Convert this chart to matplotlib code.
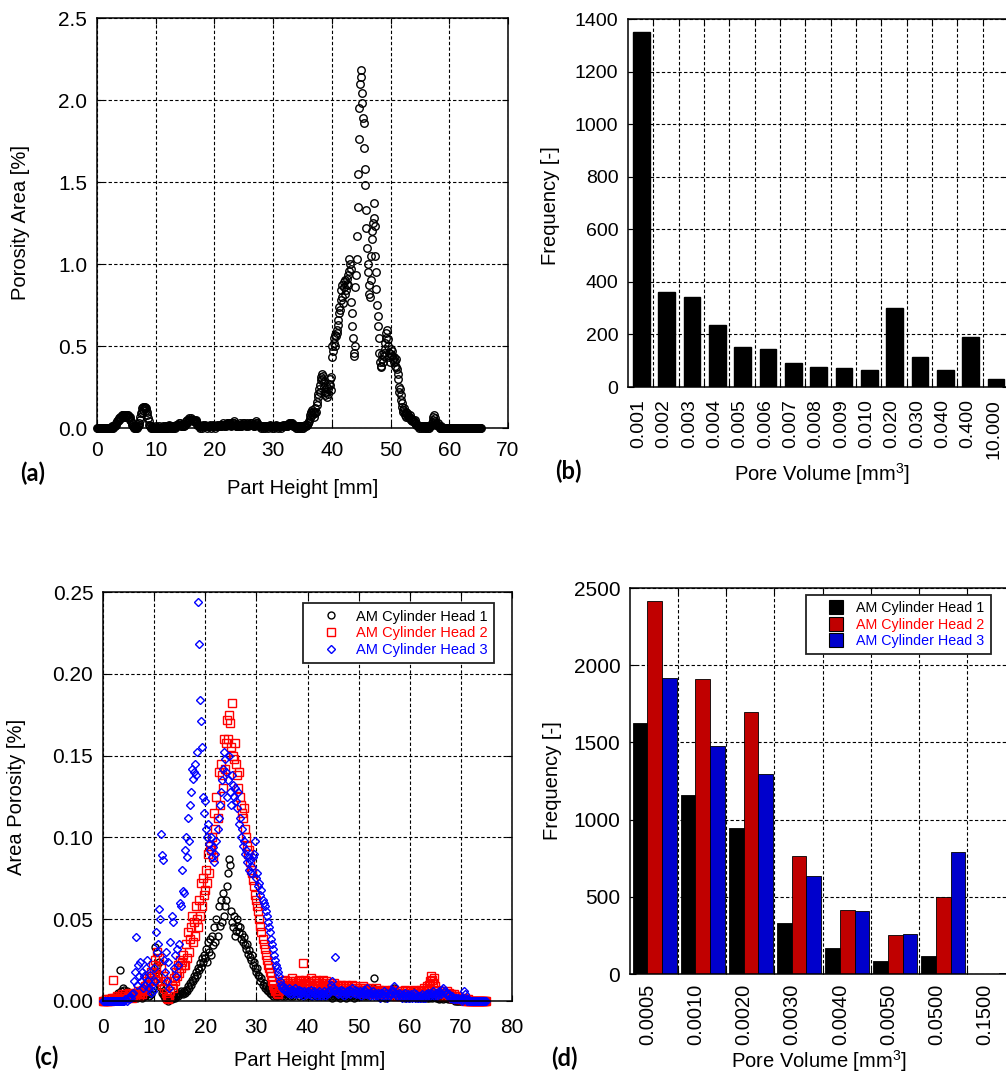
import numpy as np
import matplotlib.pyplot as plt
from matplotlib.lines import Line2D

plt.rcParams['font.family'] = ['Liberation Sans', 'DejaVu Sans']
plt.rcParams['mathtext.fontset'] = 'custom'
plt.rcParams['mathtext.rm'] = 'Liberation Sans'
plt.rcParams['mathtext.it'] = 'Liberation Sans'

# (a) porosity area per CT slice, one row per mm of part height
slice_pitch_a = 0.1
porosity_a = [
    0, 0, 0, 0, 0, 0, 0, 0, 0, 0,
    0, 0, 0, 0, 0, 0, 0, 0, 0, 0,
    0, 0, 0, 0, 0, 0, .01, 0, .01, .01,
    .01, .02, .03, .02, .04, .05, .04, .06, .05, .06,
    .07, .06, .08, .07, .08, .08, .07, .08, .08, .07,
    .08, .08, .07, .08, .07, .06, .07, .05, .04, .03,
    .02, .01, .01, 0, .01, 0, .01, 0, 0, .01,
    .01, .02, .03, .05, .07, .09, .10, .12, .11, .13,
    .13, .12, .13, .11, .12, .10, .08, .06, .04, .02,
    .01, .01, 0, 0, .01, 0, 0, 0, 0, 0,
    0, .01, 0, 0, 0, .01, 0, 0, 0, 0,
    0, 0, .01, 0, 0, 0, .01, 0, 0, .01,
    .01, 0, .01, .02, .01, 0, .01, 0, .01, 0,
    0, .01, 0, .01, .02, .01, .02, .01, .02, .03,
    .02, .03, .02, .01, .02, .01, .01, .02, .01, .02,
    .02, .03, .04, .03, .05, .04, .05, .06, .05, .05,
    .06, .05, .05, .04, .05, .04, .05, .04, .05, .04,
    .03, .02, .02, .01, .01, 0, .01, .01, 0, .01,
    .01, .02, .01, .01, .02, .01, .01, 0, .01, .01,
    .01, .01, .02, .01, .01, 0, .01, .01, .02, .01,
    .01, 0, .01, .01, .01, .02, .01, .01, .02, .01,
    .01, .02, .01, .02, .03, .02, .02, .01, .02, .01,
    .02, .03, .02, .03, .03, .02, .03, .02, .01, .02,
    .02, .03, .03, .04, .03, .02, .02, .01, .01, .01,
    .02, .01, .02, .03, .02, .01, .01, .02, .02, .03,
    .02, .03, .02, .02, .01, .02, .03, .02, .01, .02,
    .02, .03, .03, .02, .03, .02, .02, .01, .01, .02,
    .03, .04, .03, .03, .02, .02, .01, .01, .01, 0,
    .01, .01, 0, .01, .01, .01, 0, .01, .01, .01,
    .01, 0, .01, .01, .02, .01, .01, .01, 0, .01,
    .01, .01, 0, .01, .01, .02, .01, .01, 0, .01,
    .01, .01, .01, 0, .01, .01, .01, .02, .01, .01,
    .01, .02, .01, .01, .01, .02, .02, .03, .02, .03,
    .03, .02, .03, .02, .01, .01, .02, .01, .01, 0,
    .01, 0, .01, .01, 0, .01, 0, .01, .01, 0,
    .01, 0, .01, .01, .01, .02, .01, .02, .02, .03,
    .03, .04, .06, .08, .09, .10, .08, .11, .10, .09,
    .07, .09, .12, .10, .14, .16, .19, .21, .24, .22,
    .26, .29, .31, .33, .30, .32, .28, .25, .22, .20,
    .22, .25, .19, .21, .24, .27, .30, .26, .23, .31,
    .43, .50, .47, .52, .55, .50, .57, .56, .60, .58,
    .63, .66, .70, .74, .72, .78, .84, .80, .87, .76,
    .86, .89, .82, .90, .84, .88, .91, .87, .93, .96,
    1.03, 1.00, .97, .77, .70, .62, .55, .46, .44, .50,
    .86, .93, 1.03, 1.17, 1.35, 1.55, 1.76, 1.95, 2.10, 2.18,
    2.14, 2.04, 1.98, 1.89, 1.86, 1.71, 1.58, 1.48, 1.33, 1.22,
    1.10, 1.00, .95, .87, .82, .80, .90, 1.05, 1.15, 1.20,
    1.25, 1.28, 1.37, 1.23, 1.05, .95, .85, .75, .68, .62,
    .55, .46, .40, .37, .38, .42, .45, .40, .46, .44,
    .48, .52, .55, .58, .60, .54, .50, .46, .43, .40,
    .45, .48, .44, .47, .42, .40, .43, .38, .41, .37,
    .42, .36, .33, .30, .25, .22, .24, .20, .17, .15,
    .13, .11, .10, .12, .09, .08, .10, .07, .09, .07,
    .08, .07, .06, .08, .05, .06, .04, .05, .04, .05,
    .04, .03, .05, .03, .02, .02, .01, .01, .01, 0,
    .01, .01, 0, .01, .01, 0, .01, .01, 0, .01,
    0, .01, .01, 0, .01, .01, 0, .01, .01, .02,
    .02, .03, .05, .07, .08, .06, .04, .03, .02, .02,
    .03, .02, .01, .01, 0, 0, .01, 0, 0, 0,
    0, 0, 0, 0, 0, 0, 0, 0, 0, 0,
    0, 0, 0, 0, 0, 0, 0, 0, 0, 0,
    0, 0, 0, 0, 0, 0, 0, 0, 0, 0,
    0, 0, 0, 0, 0, 0, 0, 0, 0, 0,
    0, 0, 0, 0, 0, 0, 0, 0, 0, 0,
    0, 0, 0, 0, 0, 0, 0, 0, 0, 0,
    0, 0, 0, 0, 0,
]

# (b) pore volume histogram
pore_bins_b = ['0.001', '0.002', '0.003', '0.004', '0.005', '0.006', '0.007',
               '0.008', '0.009', '0.010', '0.020', '0.030', '0.040', '0.400',
               '10.000']
counts_b = [1352, 360, 341, 236, 151, 143, 93, 77, 74, 66, 302, 113, 63, 189, 32]

# (c) area porosity of the three cylinder heads, one row per 2 mm
slice_pitch_c = 0.2
head1_c = [
    0, 0, 0, 0, 0, 0, 0, 0, 0, 0,
    0, 0, .001, .002, .003, .005, .004, .019, .006, .004,
    .008, .007, .005, .006, .004, .003, .004, .002, .003, .002,
    .002, .003, .004, .002, .003, .005, .003, .004, .002, .003,
    .004, .003, .005, .004, .006, .003, .005, .004, .006, .008,
    .012, .033, .018, .022, .015, .024, .010, .008, .005, .004,
    .003, .002, .001, .001, 0, .001, .002, .001, .002, .003,
    .002, .003, .004, .003, .005, .004, .006, .005, .004, .006,
    .005, .007, .006, .009, .008, .011, .010, .013, .012, .015,
    .014, .018, .016, .020, .019, .023, .021, .026, .024, .028,
    .026, .032, .024, .036, .030, .038, .028, .040, .034, .045,
    .036, .050, .040, .058, .046, .062, .048, .066, .052, .058,
    .062, .070, .078, .087, .083, .055, .048, .045, .052, .040,
    .043, .050, .046, .042, .045, .038, .041, .036, .039, .034,
    .032, .035, .029, .031, .027, .025, .028, .022, .024, .020,
    .018, .020, .016, .015, .012, .014, .010, .011, .008, .009,
    .007, .006, .008, .005, .004, .006, .003, .005, .004, .003,
    .004, .003, .005, .004, .006, .003, .004, .005, .003, .004,
    .005, .004, .006, .003, .005, .004, .003, .005, .004, .006,
    .004, .005, .003, .006, .004, .005, .007, .004, .005, .003,
    .004, .006, .005, .003, .004, .005, .006, .004, .003, .005,
    .004, .003, .005, .006, .004, .005, .003, .004, .006, .005,
    .003, .004, .005, .003, .002, .004, .003, .005, .004, .003,
    .004, .003, .002, .004, .003, .005, .004, .003, .002, .004,
    .003, .005, .004, .003, .004, .002, .003, .005, .004, .003,
    .004, .003, .005, .004, .006, .003, .004, .005, .003, .004,
    .005, .004, .006, .005, .008, .014, .006, .004, .005, .003,
    .004, .003, .005, .004, .003, .004, .002, .003, .004, .003,
    .004, .005, .003, .006, .004, .008, .005, .004, .003, .004,
    .003, .004, .005, .003, .004, .002, .003, .004, .003, .002,
    .003, .004, .006, .005, .004, .003, .004, .002, .003, .004,
    .003, .002, .004, .003, .002, .003, .004, .002, .003, .002,
    .003, .004, .002, .003, .004, .003, .002, .003, .002, .001,
    .002, .003, .002, .001, .002, .003, .002, .001, .002, .001,
    .001, .002, .001, .001, 0, .001, 0, 0, .001, 0,
    0, 0, 0, 0, 0, 0, 0, 0, 0, 0,
    0, 0, 0, 0, 0, 0, 0, 0, 0, 0,
    0, 0, 0, 0, 0, 0,
]
head2_c = [
    0, 0, 0, .001, 0, 0, .001, 0, .001, .002,
    .013, .002, .001, .002, .003, .002, .001, .003, .002, .004,
    .002, .003, .004, .002, .003, .005, .003, .004, .002, .003,
    .004, .003, .005, .004, .006, .003, .005, .006, .004, .007,
    .006, .009, .007, .012, .010, .015, .012, .018, .014, .022,
    .018, .025, .020, .030, .016, .026, .012, .020, .010, .015,
    .008, .012, .005, .002, .001, .003, .006, .010, .008, .014,
    .012, .018, .015, .022, .017, .025, .020, .024, .028, .022,
    .022, .035, .026, .042, .030, .038, .045, .052, .036, .048,
    .040, .058, .050, .045, .062, .052, .072, .058, .075, .065,
    .068, .080, .072, .090, .078, .095, .092, .100, .088, .115,
    .105, .125, .112, .140, .120, .145, .138, .130, .160, .142,
    .158, .172, .160, .175, .170, .155, .182, .150, .148, .158,
    .145, .138, .130, .140, .125, .120, .115, .112, .118, .105,
    .100, .095, .090, .092, .085, .080, .078, .074, .070, .065,
    .062, .058, .055, .050, .046, .042, .038, .035, .032, .028,
    .025, .022, .020, .018, .015, .012, .010, .008, .006, .007,
    .005, .004, .006, .008, .010, .012, .009, .011, .013, .010,
    .008, .011, .009, .012, .010, .014, .011, .009, .012, .010,
    .008, .011, .013, .010, .012, .009, .023, .011, .013, .010,
    .012, .009, .011, .014, .010, .008, .012, .010, .013, .011,
    .009, .012, .010, .008, .011, .013, .010, .009, .012, .010,
    .008, .011, .009, .007, .010, .008, .011, .009, .007, .010,
    .008, .006, .009, .010, .007, .009, .006, .008, .010, .007,
    .009, .007, .006, .008, .010, .007, .009, .006, .008, .007,
    .006, .008, .005, .007, .009, .006, .008, .005, .007, .006,
    .008, .005, .007, .006, .004, .007, .005, .008, .006, .005,
    .007, .005, .006, .004, .006, .005, .007, .004, .006, .005,
    .004, .006, .005, .007, .004, .006, .005, .003, .006, .004,
    .005, .003, .006, .004, .005, .007, .004, .006, .003, .005,
    .004, .006, .003, .005, .007, .004, .006, .005, .003, .006,
    .005, .007, .004, .006, .008, .005, .007, .009, .006, .010,
    .012, .015, .013, .011, .014, .009, .007, .006, .005, .004,
    .005, .003, .006, .004, .005, .003, .006, .004, .005, .003,
    .004, .003, .002, .004, .003, .002, .003, .001, .002, .001,
    .002, .001, .002, .001, 0, .001, 0, .001, 0, 0,
    0, 0, 0, 0, 0, 0, 0, 0, 0, 0,
    0, 0, 0, 0, 0, 0,
]
head3_c = [
    0, 0, 0, 0, 0, 0, 0, 0, 0, 0,
    0, 0, 0, 0, 0, 0, 0, 0, 0, 0,
    0, 0, .001, 0, .002, .001, .003, .002, .004, .005,
    .012, .018, .039, .010, .022, .015, .024, .012, .018, .008,
    .015, .010, .020, .025, .012, .008, .016, .005, .010, .006,
    .020, .012, .042, .030, .035, .056, .050, .102, .089, .086,
    .025, .018, .030, .012, .024, .008, .036, .052, .048, .020,
    .028, .015, .032, .022, .035, .060, .058, .080, .067, .066,
    .092, .100, .088, .112, .098, .120, .128, .142, .136, .140,
    .145, .138, .152, .244, .218, .184, .171, .155, .125, .115,
    .122, .105, .100, .108, .096, .092, .100, .088, .094, .085,
    .090, .098, .105, .112, .120, .128, .135, .142, .152, .148,
    .140, .125, .135, .150, .128, .120, .138, .132, .125, .130,
    .122, .118, .128, .108, .112, .100, .105, .095, .098, .090,
    .092, .085, .088, .080, .086, .078, .082, .088, .090, .098,
    .075, .078, .070, .072, .065, .068, .062, .060, .058, .055,
    .052, .048, .045, .042, .038, .035, .032, .028, .025, .022,
    .020, .018, .015, .012, .010, .008, .009, .007, .008, .006,
    .007, .005, .008, .006, .004, .007, .005, .006, .008, .004,
    .006, .005, .007, .004, .006, .005, .003, .006, .005, .004,
    .006, .004, .005, .007, .003, .005, .006, .004, .005, .003,
    .005, .006, .004, .003, .005, .004, .006, .003, .005, .004,
    .006, .005, .007, .010, .012, .008, .006, .027, .007, .005,
    .004, .006, .005, .007, .004, .006, .003, .005, .004, .006,
    .005, .007, .004, .006, .008, .005, .007, .004, .006, .005,
    .004, .006, .003, .005, .004, .007, .006, .004, .008, .005,
    .004, .003, .005, .004, .006, .003, .005, .004, .003, .005,
    .004, .002, .005, .003, .004, .006, .003, .005, .002, .004,
    .003, .005, .004, .007, .006, .009, .005, .004, .003, .005,
    .004, .003, .002, .004, .003, .005, .002, .003, .004, .002,
    .003, .004, .002, .003, .005, .002, .004, .003, .002, .003,
    .002, .003, .004, .002, .003, .002, .004, .003, .005, .004,
    .003, .005, .004, .006, .003, .004, .005, .003, .004, .006,
    .005, .004, .007, .008, .006, .004, .005, .003, .004, .002,
    .002, .003, .001, .002, .001, .002, .001, .002, .001, .001,
    .001, 0, .001, .006, .004, .001, 0, .001, 0, 0,
    0, 0, 0, 0, 0, 0, 0, 0, 0, 0,
    0, 0, 0, 0, 0, 0,
]

# (d) pore volume histogram for the three heads
pore_bins_d = ['0.0005', '0.0010', '0.0020', '0.0030', '0.0040', '0.0050',
               '0.0500', '0.1500']
head1_d = [1628, 1157, 943, 332, 166, 82, 117, 2]
head2_d = [2418, 1913, 1697, 762, 415, 255, 497, 2]
head3_d = [1919, 1475, 1295, 637, 408, 261, 788, 4]

head_labels = ['AM Cylinder Head 1', 'AM Cylinder Head 2', 'AM Cylinder Head 3']
text_colors = ['black', '#ff0000', '#0000ff']
bar_colors = ['black', '#c00000', '#0000cc']

W, H = 1006, 1074
fig = plt.figure(figsize=(W / 100, H / 100), dpi=100)


def px_axes(left, top, right, bottom):
    return fig.add_axes([left / W, 1 - bottom / H, (right - left) / W, (bottom - top) / H])


def style(ax, xpad=6, ypad=6):
    ax.grid(True, color='black', linestyle=(0, (3, 2)), linewidth=0.8)
    ax.set_axisbelow(True)
    for s in ax.spines.values():
        s.set_linewidth(1.1)
    ax.tick_params(axis='both', direction='in', length=4, width=0.8,
                   top=True, right=True, labelsize=15)
    ax.tick_params(axis='x', pad=xpad)
    ax.tick_params(axis='y', pad=ypad)


def label(x, y, s, **kw):
    fig.text(x / W, 1 - y / H, s, ha='center', va='center', **kw)


# ---- (a)
ax_a = px_axes(97, 18, 508, 428)
y_a = np.array(porosity_a)
x_a = np.arange(y_a.size) * slice_pitch_a
ax_a.plot(x_a, y_a, 'o', mfc='none', mec='black', ms=5.4, mew=1.0, clip_on=False)
ax_a.set_xlim(0, 70)
ax_a.set_ylim(0, 2.5)
ax_a.set_xticks(np.arange(0, 71, 10))
ax_a.set_yticks(np.arange(0, 2.51, 0.5))
ax_a.set_yticklabels([f'{v:.1f}' for v in np.arange(0, 2.51, 0.5)])
style(ax_a, xpad=9, ypad=7)
label(21, 223, 'Porosity Area [%]', rotation=90, fontsize=14.5)
label(303, 489, 'Part Height [mm]', fontsize=14.5)
label(33, 473, '(a)', fontsize=17, fontweight='bold', family='Lato')

# ---- (b)
ax_b = px_axes(628, 19, 1008, 387)
pos_b = np.arange(len(counts_b))
ax_b.bar(pos_b + 0.53, counts_b, width=0.66, color='black', edgecolor='black')
ax_b.set_xlim(0, 15)
ax_b.set_ylim(0, 1400)
ax_b.set_yticks(np.arange(0, 1401, 200))
ax_b.set_xticks(np.arange(1, 15))
ax_b.set_xticklabels([])
ax_b.set_xticks(pos_b + 0.43, minor=True)
ax_b.set_xticklabels(pore_bins_b, minor=True, rotation=90)
style(ax_b, ypad=7)
ax_b.tick_params(axis='y', labelsize=14)
ax_b.tick_params(axis='x', which='minor', length=0, labelsize=14, pad=9)
label(551, 206, 'Frequency [-]', rotation=90, fontsize=14.5)
label(822, 474, 'Pore Volume [mm$^3$]', fontsize=14.5)
label(568, 471, '(b)', fontsize=17, fontweight='bold', family='Lato')

# ---- (c)
ax_c = px_axes(103, 592, 512, 1001)
markers = [dict(marker='o', ms=5.0), dict(marker='s', ms=5.6), dict(marker='D', ms=4.0)]
handles = []
for series, col, mk in zip([head1_c, head2_c, head3_c], text_colors, markers):
    y = np.array(series)
    x = np.arange(y.size) * slice_pitch_c
    h, = ax_c.plot(x, y, linestyle='none', mfc='none', mec=col, mew=1.0,
                   clip_on=False, **mk)
    handles.append(h)
ax_c.set_xlim(0, 80)
ax_c.set_ylim(0, 0.25)
ax_c.set_xticks(np.arange(0, 81, 10))
ax_c.set_yticks(np.arange(0, 0.251, 0.05))
ax_c.set_yticklabels([f'{v:.2f}' for v in np.arange(0, 0.251, 0.05)])
style(ax_c, xpad=12, ypad=7)
leg_c = ax_c.legend(handles, head_labels, loc='upper right',
                    bbox_to_anchor=(494 / W, 1 - 603 / H), bbox_transform=fig.transFigure,
                    fontsize=10.5, frameon=True, fancybox=False, framealpha=1,
                    edgecolor='#222222', numpoints=1, handlelength=3.0,
                    handletextpad=0.2, labelspacing=0.18, borderpad=0.45,
                    borderaxespad=0)
leg_c.get_frame().set_linewidth(1.3)
for t, c in zip(leg_c.get_texts(), text_colors):
    t.set_color(c)
label(17, 797, 'Area Porosity [%]', rotation=90, fontsize=14.5)
label(310, 1061, 'Part Height [mm]', fontsize=14.5)
label(46, 1057, '(c)', fontsize=17, fontweight='bold', family='Lato')

# ---- (d)
ax_d = px_axes(630, 588, 1015, 974)
pos_d = np.arange(len(pore_bins_d))
for i, (vals, col) in enumerate(zip([head1_d, head2_d, head3_d], bar_colors)):
    ax_d.bar(pos_d + 0.055 + i * 0.305, vals, width=0.305, align='edge',
             color=col, edgecolor='black', linewidth=0.6)
ax_d.set_xlim(0, 8)
ax_d.set_ylim(0, 2500)
ax_d.set_yticks(np.arange(0, 2501, 500))
ax_d.set_xticks(np.arange(1, 8))
ax_d.set_xticklabels([])
ax_d.set_xticks(pos_d + 0.37, minor=True)
ax_d.set_xticklabels(pore_bins_d, minor=True, rotation=90)
style(ax_d, ypad=7)
ax_d.tick_params(axis='x', which='minor', length=0, labelsize=14.5, pad=7)
bar_handles = [Line2D([], [], linestyle='none', marker='s', ms=10.5, mfc=c,
                      mec='black', mew=0.8) for c in bar_colors]
leg_d = ax_d.legend(bar_handles, head_labels, loc='upper right',
                    bbox_to_anchor=(991 / W, 1 - 595 / H), bbox_transform=fig.transFigure,
                    fontsize=10.3, frameon=True, fancybox=False, framealpha=1,
                    edgecolor='#222222', numpoints=1, handlelength=3.3,
                    handletextpad=-0.2, labelspacing=0.15, borderpad=0.45,
                    borderaxespad=0)
leg_d.get_frame().set_linewidth(1.3)
for t, c in zip(leg_d.get_texts(), text_colors):
    t.set_color(c)
label(552, 781, 'Frequency [-]', rotation=90, fontsize=14.5)
label(819, 1061, 'Pore Volume [mm$^3$]', fontsize=14.5)
label(564, 1058, '(d)', fontsize=17, fontweight='bold', family='Lato')

fig.savefig('out.png', dpi=100)
